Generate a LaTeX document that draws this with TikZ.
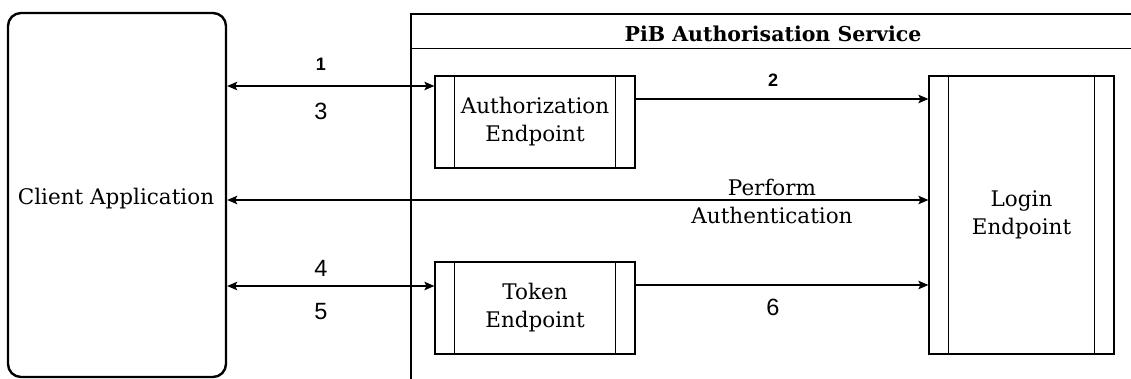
\documentclass[tikz,border=0pt]{standalone}
\usepackage{fontspec}
\setmainfont{DejaVu Serif}
\newfontfamily\lsans{Liberation Sans}
\usetikzlibrary{arrows.meta}
\tikzset{
  boxtxt/.style={font=\fontsize{21.5}{28}\selectfont, align=center},
  proc/.style={draw, line width=1.2pt, inner sep=0pt, boxtxt,
    path picture={
      \draw[line width=1.2pt] ([xshift=19.5pt]path picture bounding box.north west) -- ([xshift=19.5pt]path picture bounding box.south west);
      \draw[line width=1.2pt] ([xshift=-19.5pt]path picture bounding box.north east) -- ([xshift=-19.5pt]path picture bounding box.south east);
    }},
  conn/.style={line width=1.3pt, -{Stealth[length=10pt,width=8.5pt,inset=2pt]}},
  biconn/.style={line width=1.3pt, {Stealth[length=10pt,width=8.5pt,inset=2pt]}-{Stealth[length=10pt,width=8.5pt,inset=2pt]}},
  numbig/.style={font=\lsans\fontsize{23.5}{28}\selectfont, inner sep=0pt},
  numsmall/.style={font=\lsans\bfseries\fontsize{18}{20}\selectfont, inner sep=0pt},
}
\begin{document}
\begin{tikzpicture}[x=1pt,y=-1pt]
\useasboundingbox (0,0) rectangle (1131,379);
\clip (0,0) rectangle (1131,379);
% client
\node[draw, line width=2.4pt, rounded corners=13pt, minimum width=218pt, minimum height=364pt, inner sep=0pt] (client) at (117,195) {};
\node[boxtxt, inner sep=0pt] (clientlbl) at (116,199) {Client Application};
% service container
\draw[line width=1.2pt] (411,14) rectangle (1136,395);
\draw[line width=1.2pt] (411,48.5) -- (1136,48.5);
\node[font=\bfseries\fontsize{20.5}{24}\selectfont, inner sep=0pt] (svc) at (773,34) {PiB Authorisation Service};
% endpoints
\node[proc, minimum width=200pt, minimum height=92pt] (auth) at (535,122) {Authorization\\Endpoint};
\node[proc, minimum width=200pt, minimum height=92pt] (token) at (535,308) {Token\\Endpoint};
\node[proc, minimum width=185pt, minimum height=278pt] (login) at (1021.5,215) {Login\\Endpoint};
% connectors
\draw[biconn] (client.east |- 0,86) -- (auth.west |- 0,86);
\node[numsmall] (l1) at (321,64) {1};
\node[numbig] (l3) at (321,111.5) {3};
\draw[conn] (auth.east |- 0,99) -- (login.west |- 0,99);
\node[numsmall] (l2) at (773,80) {2};
\draw[biconn] (client.east |- 0,200) -- (login.west |- 0,200);
\node[boxtxt, inner sep=0pt] (perf) at (772,201) {Perform\\Authentication};
\draw[biconn] (client.east |- 0,286) -- (token.west |- 0,286);
\node[numbig] (l4) at (321,268) {4};
\node[numbig] (l5) at (321,311.5) {5};
\draw[conn] (token.east |- 0,285) -- (login.west |- 0,285);
\node[numbig] (l6) at (773,307) {6};
\end{tikzpicture}
\end{document}
